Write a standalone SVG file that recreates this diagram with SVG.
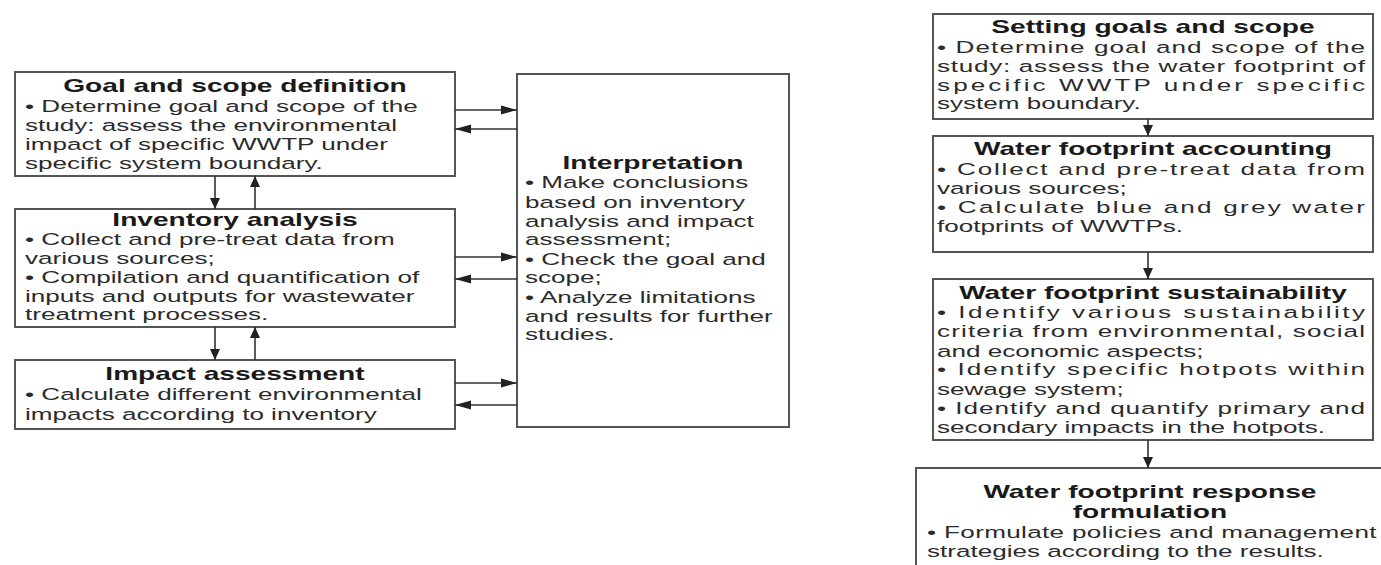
<svg xmlns="http://www.w3.org/2000/svg" width="1381" height="565" viewBox="0 0 1381 565">
<style>
.box{fill:#fff;stroke:#555;stroke-width:2}
.ti{font-family:"Liberation Sans",Arial,sans-serif;font-weight:bold;font-size:17.8px;fill:#1a1a1a;text-anchor:middle}
.b{font-family:"Liberation Sans",Arial,sans-serif;font-size:16.5px;fill:#2b2b2b}
.c{fill:none;stroke:#333;stroke-width:1.6}
.ch{marker-end:url(#ah)}
.cv{marker-end:url(#av)}
</style>
<defs>
<marker id="ah" markerUnits="userSpaceOnUse" markerWidth="16" markerHeight="10" refX="16" refY="5" orient="auto"><path d="M0,0.5 L16,5 L0,9.5 z" fill="#222"/></marker>
<marker id="av" markerUnits="userSpaceOnUse" markerWidth="11" markerHeight="10" refX="11" refY="5" orient="auto"><path d="M0,0 L11,5 L0,10 z" fill="#222"/></marker>
</defs>
<rect width="1381" height="565" fill="#fff"/>

<g id="goal">
<rect class="box" x="15" y="72" width="440" height="104"/>
<g transform="translate(25,0) scale(1.58,1)">
<text class="ti" x="132.9" y="92">Goal and scope definition</text>
<text class="b" x="0" y="112">• Determine goal and scope of the</text>
<text class="b" x="0" y="131">study: assess the environmental</text>
<text class="b" x="0" y="150">impact of specific WWTP under</text>
<text class="b" x="0" y="169">specific system boundary.</text>
</g>
</g>

<g id="inventory">
<rect class="box" x="15" y="209" width="440" height="118"/>
<g transform="translate(25,0) scale(1.58,1)">
<text class="ti" x="132.9" y="226">Inventory analysis</text>
<text class="b" x="0" y="245">• Collect and pre-treat data from</text>
<text class="b" x="0" y="264">various sources;</text>
<text class="b" x="0" y="283">• Compilation and quantification of</text>
<text class="b" x="0" y="302">inputs and outputs for wastewater</text>
<text class="b" x="0" y="320">treatment processes.</text>
</g>
</g>

<g id="impact">
<rect class="box" x="15" y="360" width="440" height="69"/>
<g transform="translate(25,0) scale(1.58,1)">
<text class="ti" x="132.9" y="380">Impact assessment</text>
<text class="b" x="0" y="400">• Calculate different environmental</text>
<text class="b" x="0" y="420">impacts according to inventory</text>
</g>
</g>

<g id="interpretation">
<rect class="box" x="517" y="74" width="272" height="353"/>
<g transform="translate(525,0) scale(1.58,1)">
<text class="ti" x="81" y="169">Interpretation</text>
<text class="b" x="0" y="188">• Make conclusions</text>
<text class="b" x="0" y="208">based on inventory</text>
<text class="b" x="0" y="227">analysis and impact</text>
<text class="b" x="0" y="245">assessment;</text>
<text class="b" x="0" y="265">• Check the goal and</text>
<text class="b" x="0" y="283">scope;</text>
<text class="b" x="0" y="303">• Analyze limitations</text>
<text class="b" x="0" y="322">and results for further</text>
<text class="b" x="0" y="340">studies.</text>
</g>
</g>

<g id="setting">
<rect class="box" x="933" y="14" width="440" height="105"/>
<g transform="translate(937,0) scale(1.58,1)">
<text class="ti" x="136.7" y="33">Setting goals and scope</text>
<text class="b" x="0" y="53" textLength="270.9" lengthAdjust="spacing">• Determine goal and scope of the</text>
<text class="b" x="0" y="72" textLength="270.9" lengthAdjust="spacing">study: assess the water footprint of</text>
<text class="b" x="0" y="91" textLength="270.9" lengthAdjust="spacing">specific WWTP under specific</text>
<text class="b" x="0" y="109">system boundary.</text>
</g>
</g>

<g id="accounting">
<rect class="box" x="933" y="136" width="440" height="116"/>
<g transform="translate(937,0) scale(1.58,1)">
<text class="ti" x="136.7" y="155">Water footprint accounting</text>
<text class="b" x="0" y="175" textLength="270.9" lengthAdjust="spacing">• Collect and pre-treat data from</text>
<text class="b" x="0" y="194">various sources;</text>
<text class="b" x="0" y="213" textLength="270.9" lengthAdjust="spacing">• Calculate blue and grey water</text>
<text class="b" x="0" y="232">footprints of WWTPs.</text>
</g>
</g>

<g id="sustainability">
<rect class="box" x="933" y="279" width="440" height="161"/>
<g transform="translate(937,0) scale(1.58,1)">
<text class="ti" x="136.7" y="299">Water footprint sustainability</text>
<text class="b" x="0" y="318" textLength="270.9" lengthAdjust="spacing">• Identify various sustainability</text>
<text class="b" x="0" y="337" textLength="270.9" lengthAdjust="spacing">criteria from environmental, social</text>
<text class="b" x="0" y="357">and economic aspects;</text>
<text class="b" x="0" y="375" textLength="270.9" lengthAdjust="spacing">• Identify specific hotpots within</text>
<text class="b" x="0" y="395">sewage system;</text>
<text class="b" x="0" y="414" textLength="270.9" lengthAdjust="spacing">• Identify and quantify primary and</text>
<text class="b" x="0" y="433">secondary impacts in the hotpots.</text>
</g>
</g>

<g id="response">
<rect class="box" x="916" y="468" width="500" height="140"/>
<g transform="translate(927,0) scale(1.58,1)">
<text class="ti" x="141.1" y="498">Water footprint response</text>
<text class="ti" x="141.1" y="518">formulation</text>
<text class="b" x="0" y="538" textLength="284.5" lengthAdjust="spacing">• Formulate policies and management</text>
<text class="b" x="0" y="557">strategies according to the results.</text>
</g>
</g>

<g id="connectors">
<line class="c cv" x1="215" y1="176" x2="215" y2="209"/>
<line class="c cv" x1="255" y1="209" x2="255" y2="176"/>
<line class="c cv" x1="215" y1="327" x2="215" y2="360"/>
<line class="c cv" x1="255" y1="360" x2="255" y2="327"/>
<line class="c ch" x1="455" y1="110" x2="517" y2="110"/>
<line class="c ch" x1="517" y1="129" x2="455" y2="129"/>
<line class="c ch" x1="455" y1="257" x2="517" y2="257"/>
<line class="c ch" x1="517" y1="279" x2="455" y2="279"/>
<line class="c ch" x1="455" y1="383" x2="517" y2="383"/>
<line class="c ch" x1="517" y1="405" x2="455" y2="405"/>
<line class="c cv" x1="1148" y1="119" x2="1148" y2="136"/>
<line class="c cv" x1="1148" y1="252" x2="1148" y2="279"/>
<line class="c cv" x1="1148" y1="440" x2="1148" y2="468"/>
</g>
</svg>
